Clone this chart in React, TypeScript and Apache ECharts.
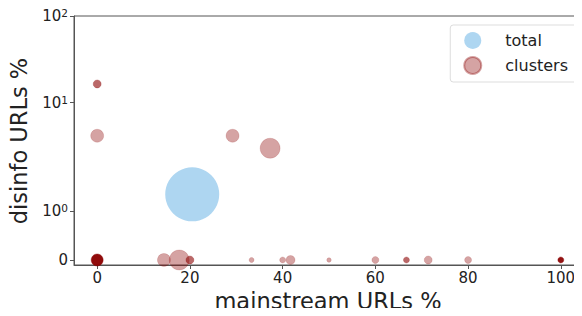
import React, { useEffect, useRef } from "react";
import * as echarts from "echarts";

// symlog scale parameters (matplotlib-style)
const LINTHRESH = 1.964;
const LINSCALE_ADJ = 1 / (1 - 1 / 10);
const symlog = (a: number) =>
  a <= LINTHRESH ? a * LINSCALE_ADJ : LINTHRESH * (LINSCALE_ADJ + Math.log10(a / LINTHRESH));

// data
const totalX = [20.5];
const totalY = [1.34];
const totalSize = [54];

const clusterX = [0, 0, 29.2, 37.3, 0, 14.4, 17.7, 20, 33.3, 40, 41.7, 50, 60, 66.7, 71.4, 80, 100];
const clusterY = [16.4, 4.14, 4.14, 2.97, 0, 0, 0, 0, 0, 0, 0, 0, 0, 0, 0, 0, 0];
const clusterSize = [8, 13, 13, 20, 12, 13, 20, 8, 5, 6, 9, 4.5, 7, 6, 8, 7, 6];
const clusterOverlap = [2, 1, 1, 1, 7, 1, 1, 2, 1, 1, 1, 1, 1, 2, 1, 1, 6];

const xTicks = [0, 20, 40, 60, 80, 100];
const yTickValues = [0, 1, 10, 100];
const yTickLabels = ["0", "{b|10}{s|0}", "{b|10}{s|1}", "{b|10}{s|2}"];
const xTitle = "mainstream URLs %";
const yTitle = "disinfo URLs %";

const FONT = "DejaVu Sans";
const AXIS_COLOR = "#555";
const TEXT_COLOR = "#222";
const CLUSTER_ALPHA = 0.36;

export default function App() {
  const ref = useRef<HTMLDivElement>(null);
  useEffect(() => {
    if (!ref.current) return;
    const chart = echarts.init(ref.current, undefined, { renderer: "svg" });
    const yTicksT = yTickValues.map(symlog);
    chart.setOption({
      animation: false,
      textStyle: { fontFamily: FONT },
      grid: {
        left: 74,
        top: 16,
        right: -2,
        bottom: 51,
        containLabel: false,
        outerBoundsMode: "none",
        show: true,
        borderColor: AXIS_COLOR,
        borderWidth: 1,
        backgroundColor: "transparent",
      },
      graphic: [
        {
          type: "text",
          x: 328,
          y: 301,
          style: {
            text: xTitle,
            fontFamily: FONT,
            fontSize: 22.5,
            fill: TEXT_COLOR,
            align: "center",
            verticalAlign: "middle",
          },
        },
        {
          type: "text",
          x: 19,
          y: 141,
          rotation: Math.PI / 2,
          style: {
            text: yTitle,
            fontFamily: FONT,
            fontSize: 22.5,
            fill: TEXT_COLOR,
            align: "center",
            verticalAlign: "middle",
          },
        },
      ],
      legend: {
        orient: "vertical",
        right: 4,
        top: 25,
        padding: [7, 10, 7, 13],
        itemWidth: 17,
        itemHeight: 17,
        itemGap: 7,
        icon: "circle",
        borderColor: "#ddd",
        borderWidth: 1,
        borderRadius: 3,
        backgroundColor: "rgba(255,255,255,0.8)",
        textStyle: { fontFamily: FONT, fontSize: 16, color: TEXT_COLOR, padding: [0, 0, 0, 19] },
        data: ["total", "clusters"],
      },
      xAxis: {
        type: "value",
        min: -5,
        max: 105,
        axisLine: { show: true, onZero: false, lineStyle: { color: AXIS_COLOR, width: 1 } },
        axisTick: { show: true, length: 4, lineStyle: { color: AXIS_COLOR }, customValues: xTicks },
        axisLabel: {
          customValues: xTicks,
          fontFamily: FONT,
          fontSize: 15,
          color: TEXT_COLOR,
          margin: 5,
        },
        splitLine: { show: false },
      },
      yAxis: {
        type: "value",
        min: -0.114,
        max: symlog(100),
        axisLine: { show: true, onZero: false, lineStyle: { color: AXIS_COLOR, width: 1 } },
        axisTick: { show: true, length: 4, lineStyle: { color: AXIS_COLOR }, customValues: yTicksT },
        axisLabel: {
          customValues: yTicksT,
          fontFamily: FONT,
          fontSize: 15,
          color: TEXT_COLOR,
          margin: 6,
          formatter: (v: number) => {
            const i = yTicksT.findIndex((t) => Math.abs(t - v) < 1e-6);
            return i >= 0 ? yTickLabels[i] : "";
          },
          rich: {
            b: { fontFamily: FONT, fontSize: 15, color: TEXT_COLOR },
            s: { fontFamily: FONT, fontSize: 10.5, color: TEXT_COLOR, verticalAlign: "top", padding: [0, 0, 6, 0] },
          },
        },
        splitLine: { show: false },
      },
      series: [
        {
          name: "total",
          type: "scatter",
          itemStyle: { color: "rgb(52,152,219)", opacity: 0.4 },
          data: totalX.map((x, i) => ({
            value: [x, symlog(totalY[i])],
            symbolSize: totalSize[i],
          })),
        },
        {
          name: "clusters",
          type: "scatter",
          itemStyle: { color: "rgb(139,0,0)", opacity: CLUSTER_ALPHA, borderColor: "rgb(139,0,0)", borderWidth: 0.4 },
          data: clusterX.map((x, i) => ({
            value: [x, symlog(clusterY[i])],
            symbolSize: clusterSize[i],
            itemStyle: { opacity: 1 - Math.pow(1 - CLUSTER_ALPHA, clusterOverlap[i]) },
          })),
        },
      ],
    });
    return () => chart.dispose();
  }, []);
  return <div ref={ref} style={{ width: 582, height: 316, margin: -8 }} />;
}
